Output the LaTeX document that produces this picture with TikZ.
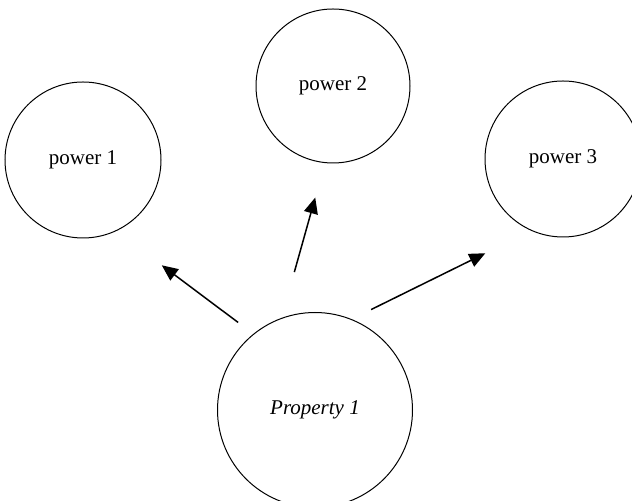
\documentclass[tikz,border=0pt]{standalone}
\usepackage{fontspec}
\setmainfont{Liberation Serif}
\usetikzlibrary{arrows.meta}

\begin{document}
\begin{tikzpicture}[x=0.5pt, y=-0.5pt, font=\fontsize{10.5}{12}\selectfont,
    bubble/.style={circle, draw, line width=0.5pt, inner sep=0pt},
    link/.style={-{Triangle[length=8pt, width=7pt]}, line width=0.75pt}]
  \useasboundingbox (0,0) rectangle (632,501);
  \node[bubble, minimum size=78pt] (pw1) at (83,160) {power 1};
  \node[bubble, minimum size=77pt] (pw2) at (333,86) {power 2};
  \node[bubble, minimum size=78pt] (pw3) at (563,159) {power 3};
  \node[bubble, minimum size=97.5pt] (prop) at (315,410) {\itshape Property 1};
  \draw[link, shorten <=9.5pt, shorten >=28.5pt] (prop.129.3) -- (pw1.295.6);
  \draw[link, shorten <=23.8pt, shorten >=17.9pt] (prop.110.5) -- (pw2.264.7);
  \draw[link, shorten <=10.8pt, shorten >=25.5pt] (prop.68) -- (pw3.246.3);
\end{tikzpicture}
\end{document}
